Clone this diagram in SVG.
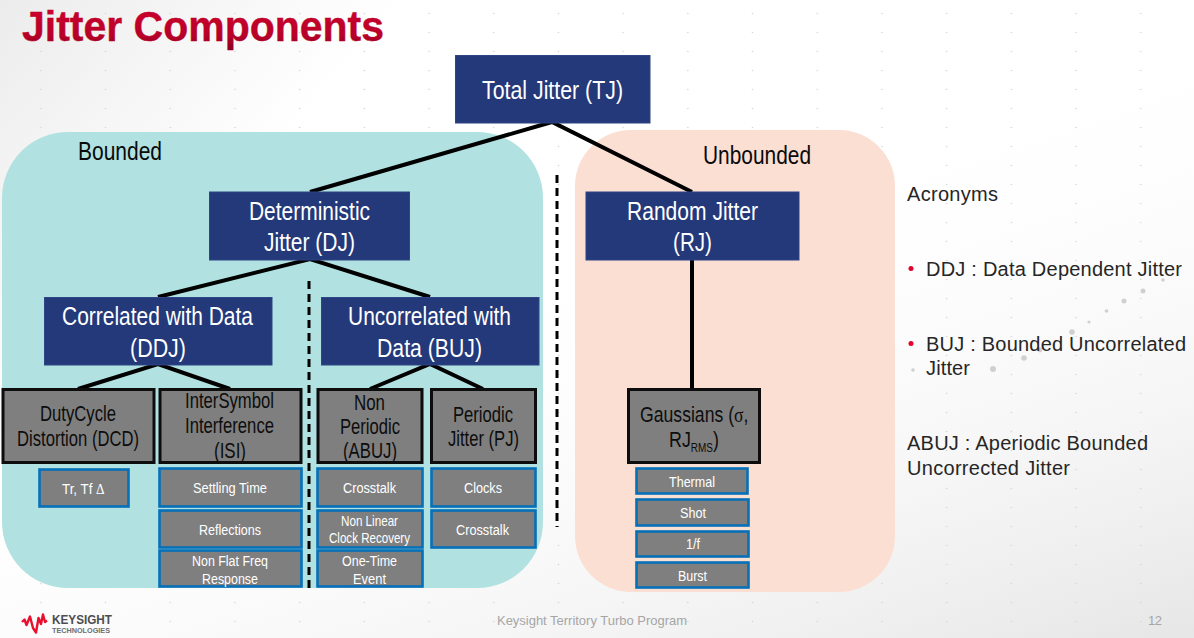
<svg xmlns="http://www.w3.org/2000/svg" width="1194" height="638" viewBox="0 0 1194 638">
  <style>
    text { font-family: "Liberation Sans", Arial, sans-serif; }
    .navy { fill: #24397a; stroke: #2f4585; stroke-width: 1; }
    .navy-t { fill: #ffffff; font-size: 26.500px; }
    .cat { fill: #7f7f7f; stroke: #0d0d0d; stroke-width: 3; }
    .cat-t { fill: #0d0d0d; font-size: 21.500px; }
    .leaf { fill: #7f7f7f; stroke: #0670b8; stroke-width: 2.600; }
    .leaf-t { fill: #ffffff; font-size: 15.500px; }
    .leaf-s { fill: #ffffff; font-size: 14.500px; }
    .region-t { fill: #0a0a0a; font-size: 26.500px; }
    .side-t { fill: #262626; font-size: 20px; }
    .greek { font-family: "Liberation Serif", "Times New Roman", serif; }
    .link { fill: none; stroke: #000000; stroke-width: 4; }
    .divider { fill: none; stroke: #000000; stroke-width: 3; stroke-dasharray: 8 5; }
    .speck { fill: #d0d0d0; }
  </style>
  <defs>
    <linearGradient id="wash-left" x1="0" y1="0" x2="1" y2="0.45">
      <stop offset="0" stop-color="#ececec"/>
      <stop offset="0.28" stop-color="#ffffff"/>
    </linearGradient>
    <linearGradient id="wash-right" x1="0.55" y1="0.3" x2="1" y2="1">
      <stop offset="0" stop-color="#ffffff" stop-opacity="0"/>
      <stop offset="1" stop-color="#e6e6e6"/>
    </linearGradient>
    <linearGradient id="title-red" x1="0" y1="0" x2="0" y2="1">
      <stop offset="0" stop-color="#d0002c"/>
      <stop offset="0.7" stop-color="#b80028"/>
      <stop offset="1" stop-color="#850020"/>
    </linearGradient>
    <pattern id="dot-grid" patternUnits="userSpaceOnUse" x="8.5" y="4" width="64.7" height="19">
      <circle cx="32.35" cy="9.5" r="0.8" fill="#d4d4d4"/>
    </pattern>
  </defs>

  <!-- Slide backdrop -->
  <rect width="1194" height="638" fill="url(#wash-left)"/>
  <rect width="1194" height="638" fill="url(#wash-right)"/>
  <rect width="1194" height="638" fill="url(#dot-grid)"/>
  <g class="speck">
    <circle cx="1143" cy="291" r="2.5"/>
    <circle cx="1124" cy="301" r="2.5"/>
    <circle cx="1106.500" cy="311" r="1.800"/>
    <circle cx="1089" cy="322" r="1.600"/>
    <circle cx="1072" cy="332" r="2.800"/>
    <circle cx="1040" cy="350" r="2.400"/>
    <circle cx="1024" cy="358" r="2.800"/>
    <circle cx="993" cy="369" r="3"/>
    <circle cx="913" cy="370" r="1.800"/>
    <circle cx="1163" cy="280" r="1.800"/>
  </g>

  <text id="title" x="22" y="41" font-size="42" font-weight="700" fill="url(#title-red)" stroke="#b80028" stroke-width="0.4" textLength="362" lengthAdjust="spacingAndGlyphs">Jitter Components</text>

  <!-- Shaded regions -->
  <g id="region-bounded">
    <rect x="2" y="132" width="541" height="456" rx="66" ry="66" fill="#b1e2e1"/>
    <text class="region-t" x="78" y="160" textLength="84" lengthAdjust="spacingAndGlyphs">Bounded</text>
  </g>
  <g id="region-unbounded">
    <rect x="575" y="130" width="320" height="462" rx="56" ry="56" fill="#fbdfd3"/>
    <text class="region-t" x="703" y="164" textLength="108" lengthAdjust="spacingAndGlyphs">Unbounded</text>
  </g>

  <!-- Tree connectors and dashed dividers -->
  <g id="connectors">
    <path class="link" d="M310 192 L552 122 L692 192"/>
    <path class="link" d="M158 297 L310 259 L430 297"/>
    <path class="link" d="M692 259 L692 389"/>
    <path class="link" d="M78 389 L158 364 L230 389"/>
    <path class="link" d="M370 389 L430 364 L483 389"/>
    <path class="divider" d="M557 175 L557 527"/>
    <path class="divider" d="M309 281 L309 588"/>
  </g>

  <!-- Top-level jitter classes -->
  <g id="node-tj">
    <rect class="navy" x="455.500" y="55.500" width="194.500" height="67.500"/>
    <text class="navy-t" x="482" y="99" textLength="141" lengthAdjust="spacingAndGlyphs">Total Jitter (TJ)</text>
  </g>
  <g id="node-dj">
    <rect class="navy" x="209.500" y="192" width="200" height="68"/>
    <text class="navy-t" x="249" y="220" textLength="121" lengthAdjust="spacingAndGlyphs">Deterministic</text>
    <text class="navy-t" x="264" y="251" textLength="91" lengthAdjust="spacingAndGlyphs">Jitter (DJ)</text>
  </g>
  <g id="node-rj">
    <rect class="navy" x="586" y="192" width="213" height="68"/>
    <text class="navy-t" x="627" y="220" textLength="131" lengthAdjust="spacingAndGlyphs">Random Jitter</text>
    <text class="navy-t" x="673" y="251" textLength="39" lengthAdjust="spacingAndGlyphs">(RJ)</text>
  </g>
  <g id="node-ddj">
    <rect class="navy" x="44.500" y="297.500" width="227.500" height="67.500"/>
    <text class="navy-t" x="62" y="325" textLength="191" lengthAdjust="spacingAndGlyphs">Correlated with Data</text>
    <text class="navy-t" x="130" y="357" textLength="56" lengthAdjust="spacingAndGlyphs">(DDJ)</text>
  </g>
  <g id="node-buj">
    <rect class="navy" x="321.500" y="297.500" width="217.500" height="67.500"/>
    <text class="navy-t" x="348" y="325" textLength="163" lengthAdjust="spacingAndGlyphs">Uncorrelated with</text>
    <text class="navy-t" x="377" y="357" textLength="105" lengthAdjust="spacingAndGlyphs">Data (BUJ)</text>
  </g>

  <!-- Jitter mechanisms -->
  <g id="node-dcd">
    <rect class="cat" x="3" y="389.500" width="151" height="73"/>
    <text class="cat-t" x="40" y="421" textLength="76" lengthAdjust="spacingAndGlyphs">DutyCycle</text>
    <text class="cat-t" x="17" y="446" textLength="122" lengthAdjust="spacingAndGlyphs">Distortion (DCD)</text>
  </g>
  <g id="node-isi">
    <rect class="cat" x="160" y="389.500" width="141" height="73"/>
    <text class="cat-t" x="185" y="408" textLength="89" lengthAdjust="spacingAndGlyphs">InterSymbol</text>
    <text class="cat-t" x="185" y="433" textLength="89" lengthAdjust="spacingAndGlyphs">Interference</text>
    <text class="cat-t" x="214" y="458" textLength="32" lengthAdjust="spacingAndGlyphs">(ISI)</text>
  </g>
  <g id="node-abuj">
    <rect class="cat" x="318" y="389.500" width="104" height="73"/>
    <text class="cat-t" x="354" y="410" textLength="31" lengthAdjust="spacingAndGlyphs">Non</text>
    <text class="cat-t" x="340" y="434" textLength="60" lengthAdjust="spacingAndGlyphs">Periodic</text>
    <text class="cat-t" x="343" y="458" textLength="54" lengthAdjust="spacingAndGlyphs">(ABUJ)</text>
  </g>
  <g id="node-pj">
    <rect class="cat" x="431.500" y="389.500" width="104" height="73"/>
    <text class="cat-t" x="453" y="422" textLength="60" lengthAdjust="spacingAndGlyphs">Periodic</text>
    <text class="cat-t" x="448" y="446" textLength="71" lengthAdjust="spacingAndGlyphs">Jitter (PJ)</text>
  </g>
  <g id="node-gaussians">
    <rect class="cat" x="628.500" y="389.500" width="131" height="73"/>
    <!-- Mixed-font lines are narrowed with a transform so the runs stay in one text -->
    <text class="cat-t" transform="translate(640 422) scale(0.82 1)">Gaussians (<tspan class="greek">σ</tspan>,</text>
    <text class="cat-t" transform="translate(669 447) scale(0.83 1)">RJ<tspan font-size="12" dy="5">RMS</tspan><tspan dy="-5">)</tspan></text>
  </g>

  <!-- Contributing sources -->
  <g id="leaf-tr-tf">
    <rect class="leaf" x="39.500" y="469.500" width="89" height="37"/>
    <text class="leaf-t" transform="translate(62 494) scale(0.86 1)">Tr, Tf <tspan class="greek">Δ</tspan></text>
  </g>
  <g id="leaf-settling">
    <rect class="leaf" x="159.500" y="468.500" width="142" height="38"/>
    <text class="leaf-t" x="193" y="493" textLength="74" lengthAdjust="spacingAndGlyphs">Settling Time</text>
  </g>
  <g id="leaf-reflections">
    <rect class="leaf" x="159.500" y="510.500" width="142" height="37"/>
    <text class="leaf-t" x="199" y="535" textLength="62" lengthAdjust="spacingAndGlyphs">Reflections</text>
  </g>
  <g id="leaf-nonflat">
    <rect class="leaf" x="159.500" y="550.500" width="142" height="36"/>
    <text class="leaf-t" x="192" y="566" textLength="76" lengthAdjust="spacingAndGlyphs">Non Flat Freq</text>
    <text class="leaf-t" x="202" y="584" textLength="56" lengthAdjust="spacingAndGlyphs">Response</text>
  </g>
  <g id="leaf-crosstalk-a">
    <rect class="leaf" x="317.500" y="468.500" width="105" height="38"/>
    <text class="leaf-t" x="343" y="493" textLength="53" lengthAdjust="spacingAndGlyphs">Crosstalk</text>
  </g>
  <g id="leaf-nonlinear">
    <rect class="leaf" x="317.500" y="510.500" width="105" height="37"/>
    <text class="leaf-s" x="341" y="526" textLength="57" lengthAdjust="spacingAndGlyphs">Non Linear</text>
    <text class="leaf-s" x="329" y="543" textLength="81" lengthAdjust="spacingAndGlyphs">Clock Recovery</text>
  </g>
  <g id="leaf-onetime">
    <rect class="leaf" x="317.500" y="550.500" width="105" height="36"/>
    <text class="leaf-t" x="342" y="566" textLength="55" lengthAdjust="spacingAndGlyphs">One-Time</text>
    <text class="leaf-t" x="353" y="584" textLength="33" lengthAdjust="spacingAndGlyphs">Event</text>
  </g>
  <g id="leaf-clocks">
    <rect class="leaf" x="431.500" y="468.500" width="104" height="38"/>
    <text class="leaf-t" x="464" y="493" textLength="38" lengthAdjust="spacingAndGlyphs">Clocks</text>
  </g>
  <g id="leaf-crosstalk-b">
    <rect class="leaf" x="431.500" y="510.500" width="104" height="37"/>
    <text class="leaf-t" x="456" y="535" textLength="53" lengthAdjust="spacingAndGlyphs">Crosstalk</text>
  </g>
  <g id="leaf-thermal">
    <rect class="leaf" x="636.500" y="468.500" width="111" height="25"/>
    <text class="leaf-s" x="669" y="487" textLength="46" lengthAdjust="spacingAndGlyphs">Thermal</text>
  </g>
  <g id="leaf-shot">
    <rect class="leaf" x="636.500" y="499.500" width="112" height="26"/>
    <text class="leaf-s" x="680" y="518" textLength="26" lengthAdjust="spacingAndGlyphs">Shot</text>
  </g>
  <g id="leaf-1f">
    <rect class="leaf" x="636.500" y="531.500" width="112" height="25"/>
    <text class="leaf-s" x="686" y="549" textLength="14" lengthAdjust="spacingAndGlyphs">1/f</text>
  </g>
  <g id="leaf-burst">
    <rect class="leaf" x="636.500" y="562.500" width="112" height="25"/>
    <text class="leaf-s" x="678" y="581" textLength="29" lengthAdjust="spacingAndGlyphs">Burst</text>
  </g>

  <!-- Acronym list -->
  <g id="acronyms">
    <text class="side-t" x="907" y="201" textLength="91">Acronyms</text>
    <circle cx="911" cy="268.500" r="2.500" fill="#e4002b"/>
    <text class="side-t" x="926" y="276" textLength="256">DDJ : Data Dependent Jitter</text>
    <circle cx="911" cy="343.500" r="2.500" fill="#e4002b"/>
    <text class="side-t" x="926" y="351" textLength="260">BUJ : Bounded Uncorrelated</text>
    <text class="side-t" x="926" y="375" textLength="44">Jitter</text>
    <text class="side-t" x="907" y="450" textLength="241">ABUJ : Aperiodic Bounded</text>
    <text class="side-t" x="907" y="475" textLength="163">Uncorrected Jitter</text>
  </g>

  <!-- Footer -->
  <g id="footer">
    <path d="M22 622 L24.500 619.500 L26.500 625 L30 616.500 L33 628 L36 632.500 L38.500 618 L41 624 L43 614.500 L45 622 L47 620.500" fill="none" stroke="#e8102f" stroke-width="2.400" stroke-linejoin="round"/>
    <text x="52" y="624" font-size="13" font-weight="700" fill="#4d4d4f" textLength="60" lengthAdjust="spacingAndGlyphs">KEYSIGHT</text>
    <text x="52" y="633" font-size="7.500" font-weight="700" fill="#6d6d6f" textLength="58" lengthAdjust="spacingAndGlyphs">TECHNOLOGIES</text>
    <text x="497" y="625" font-size="13" fill="#a6a6a6" textLength="190">Keysight Territory Turbo Program</text>
    <text x="1148" y="625" font-size="13" fill="#a6a6a6" textLength="14">12</text>
  </g>
</svg>
